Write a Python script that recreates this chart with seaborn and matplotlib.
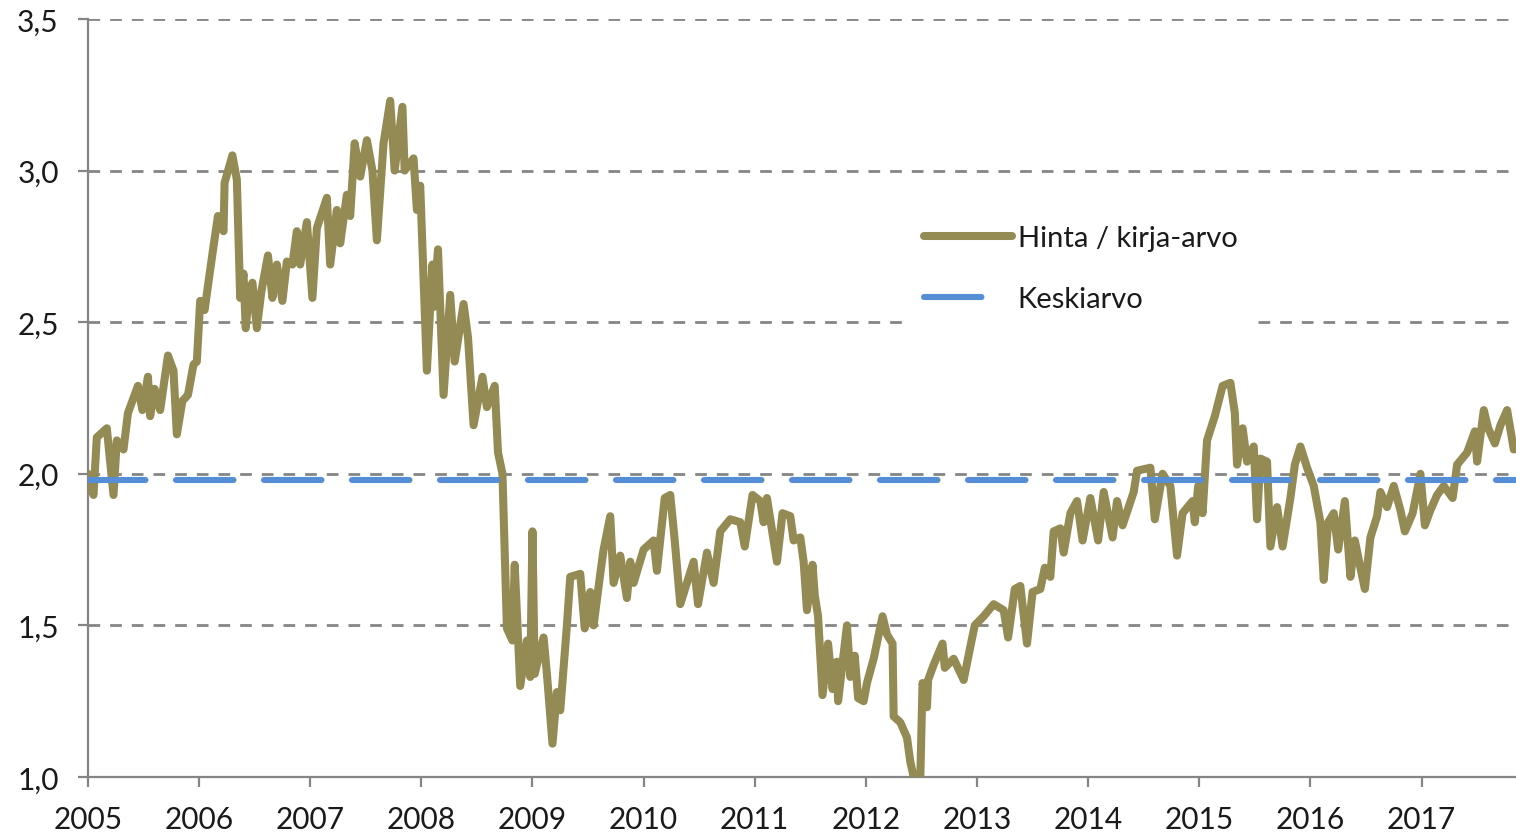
import matplotlib
matplotlib.use("Agg")
import matplotlib.pyplot as plt
import pandas as pd
import seaborn as sns

# Price / book value (decimal years)
dates = [
    2005.00, 2005.05, 2005.08, 2005.17, 2005.23, 2005.26, 2005.32, 2005.36, 2005.45, 2005.49,
    2005.54, 2005.56, 2005.60, 2005.65, 2005.72, 2005.77, 2005.80, 2005.85, 2005.90, 2005.95, 2005.98,
    2006.01, 2006.05, 2006.08, 2006.13, 2006.17, 2006.22, 2006.23, 2006.30, 2006.34, 2006.37,
    2006.40, 2006.42, 2006.45, 2006.48, 2006.52, 2006.56, 2006.62, 2006.66, 2006.70, 2006.75,
    2006.79, 2006.84, 2006.88, 2006.91, 2006.97,
    2007.02, 2007.06, 2007.15, 2007.18, 2007.24, 2007.27, 2007.33, 2007.36, 2007.40, 2007.45,
    2007.51, 2007.56, 2007.60, 2007.66, 2007.72, 2007.76, 2007.83, 2007.85, 2007.93, 2007.96, 2007.99,
    2008.05, 2008.10, 2008.11, 2008.15, 2008.20, 2008.26, 2008.30, 2008.38, 2008.42, 2008.47,
    2008.55, 2008.59, 2008.66, 2008.69, 2008.73, 2008.75, 2008.77, 2008.82, 2008.84, 2008.89,
    2008.95, 2008.98,
    2009.00, 2009.02, 2009.10, 2009.13, 2009.18, 2009.22, 2009.25, 2009.31, 2009.34, 2009.43,
    2009.47, 2009.52, 2009.55, 2009.61, 2009.64, 2009.70, 2009.73, 2009.79, 2009.85, 2009.88, 2009.91,
    2010.00, 2010.09, 2010.12, 2010.19, 2010.24, 2010.28, 2010.33, 2010.45, 2010.49, 2010.57,
    2010.63, 2010.69, 2010.78, 2010.87, 2010.91, 2010.98,
    2011.05, 2011.08, 2011.11, 2011.20, 2011.25, 2011.32, 2011.35, 2011.41, 2011.44, 2011.47,
    2011.52, 2011.54, 2011.57, 2011.61, 2011.66, 2011.70, 2011.74, 2011.75, 2011.83, 2011.86,
    2011.90, 2011.93, 2011.98,
    2012.01, 2012.07, 2012.15, 2012.19, 2012.24, 2012.25, 2012.31, 2012.37, 2012.40, 2012.43,
    2012.49, 2012.51, 2012.55, 2012.56, 2012.61, 2012.69, 2012.71, 2012.79, 2012.88, 2012.94, 2012.98,
    2013.06, 2013.15, 2013.24, 2013.28, 2013.34, 2013.39, 2013.45, 2013.50, 2013.57, 2013.61,
    2013.66, 2013.69, 2013.75, 2013.78, 2013.84, 2013.90, 2013.95,
    2014.02, 2014.09, 2014.14, 2014.22, 2014.26, 2014.31, 2014.41, 2014.44, 2014.56, 2014.60,
    2014.67, 2014.74, 2014.80, 2014.85, 2014.94, 2014.96, 2014.99,
    2015.03, 2015.07, 2015.14, 2015.21, 2015.28, 2015.32, 2015.34, 2015.39, 2015.43, 2015.49,
    2015.52, 2015.55, 2015.61, 2015.64, 2015.70, 2015.75, 2015.82, 2015.86, 2015.91, 2015.97,
    2016.03, 2016.09, 2016.12, 2016.16, 2016.21, 2016.25, 2016.31, 2016.36, 2016.40, 2016.45,
    2016.49, 2016.54, 2016.60, 2016.63, 2016.69, 2016.75, 2016.81, 2016.85, 2016.92, 2016.99,
    2017.03, 2017.08, 2017.14, 2017.20, 2017.28, 2017.32, 2017.41, 2017.48, 2017.50, 2017.56,
    2017.60, 2017.66, 2017.71, 2017.77, 2017.83,
]
ratio = [
    2.00, 1.93, 2.12, 2.15, 1.93, 2.11, 2.08, 2.20, 2.29, 2.21,
    2.32, 2.19, 2.28, 2.21, 2.39, 2.34, 2.13, 2.24, 2.26, 2.36, 2.37,
    2.57, 2.54, 2.62, 2.75, 2.85, 2.80, 2.96, 3.05, 2.97, 2.58,
    2.66, 2.48, 2.60, 2.63, 2.48, 2.60, 2.72, 2.58, 2.69, 2.57,
    2.70, 2.69, 2.80, 2.69, 2.83,
    2.58, 2.81, 2.91, 2.69, 2.87, 2.76, 2.92, 2.85, 3.09, 2.98,
    3.10, 3.00, 2.77, 3.09, 3.23, 3.00, 3.21, 3.00, 3.04, 2.87, 2.95,
    2.34, 2.69, 2.55, 2.74, 2.26, 2.59, 2.37, 2.56, 2.45, 2.16,
    2.32, 2.22, 2.29, 2.07, 2.00, 1.75, 1.49, 1.45, 1.70, 1.30,
    1.45, 1.33,
    1.81, 1.34, 1.46, 1.34, 1.11, 1.28, 1.22, 1.50, 1.66, 1.67,
    1.49, 1.61, 1.50, 1.67, 1.75, 1.86, 1.64, 1.73, 1.59, 1.71, 1.64,
    1.75, 1.78, 1.68, 1.92, 1.93, 1.78, 1.57, 1.71, 1.57, 1.74,
    1.64, 1.81, 1.85, 1.84, 1.76, 1.93,
    1.91, 1.84, 1.92, 1.71, 1.87, 1.86, 1.78, 1.79, 1.71, 1.55,
    1.70, 1.60, 1.53, 1.27, 1.44, 1.29, 1.38, 1.25, 1.50, 1.33,
    1.40, 1.26, 1.25,
    1.31, 1.39, 1.53, 1.47, 1.44, 1.20, 1.18, 1.13, 1.05, 1.00,
    1.00, 1.31, 1.23, 1.32, 1.37, 1.44, 1.36, 1.39, 1.32, 1.43, 1.50,
    1.53, 1.57, 1.55, 1.46, 1.62, 1.63, 1.44, 1.61, 1.62, 1.69,
    1.66, 1.81, 1.82, 1.74, 1.87, 1.91, 1.78,
    1.92, 1.78, 1.94, 1.79, 1.91, 1.83, 1.94, 2.01, 2.02, 1.85,
    2.00, 1.96, 1.73, 1.87, 1.91, 1.84, 1.96,
    1.87, 2.11, 2.19, 2.29, 2.30, 2.20, 2.03, 2.15, 2.04, 2.09,
    1.85, 2.05, 2.04, 1.76, 1.89, 1.76, 1.92, 2.03, 2.09, 2.02,
    1.96, 1.84, 1.65, 1.84, 1.87, 1.75, 1.91, 1.66, 1.78, 1.69,
    1.62, 1.79, 1.86, 1.94, 1.89, 1.96, 1.88, 1.81, 1.87, 2.00,
    1.83, 1.88, 1.93, 1.96, 1.92, 2.03, 2.07, 2.14, 2.04, 2.21,
    2.15, 2.10, 2.16, 2.21, 2.08,
]
mean_value = 1.98
x_range = [2005.0, 2017.85]
year_ticks = list(range(2005, 2018))
y_ticks = [1.0, 1.5, 2.0, 2.5, 3.0, 3.5]

df = pd.DataFrame({"vuosi": dates, "pb": ratio})
mean_df = pd.DataFrame({"vuosi": x_range, "pb": [mean_value, mean_value]})

sns.set_style("white")
plt.rcParams["font.family"] = ["Lato", "DejaVu Sans"]

fig = plt.figure(figsize=(15.16, 8.37), dpi=100)
ax = fig.add_axes([0.058, 0.0705, 0.942, 0.9057])

olive = "#948A54"
blue = "#558ED5"
grid_gray = "#858585"

# horizontal dashed grid
for yv in y_ticks[1:]:
    ax.axhline(yv, color=grid_gray, lw=2.0, dashes=(4.2, 3.6), zorder=1)

sns.lineplot(data=df, x="vuosi", y="pb", ax=ax, color=olive, lw=5.8,
             estimator=None, sort=False, label="Hinta / kirja-arvo", zorder=3,
             solid_joinstyle="round", solid_capstyle="round")
sns.lineplot(data=mean_df, x="vuosi", y="pb", ax=ax, color=blue, lw=4.4,
             estimator=None, label="Keskiarvo", zorder=4,
             dashes=False, linestyle=(0, (9.4, 5.0)), dash_capstyle="round")

ax.set_xlim(*x_range)
ax.set_ylim(1.0, 3.5)
ax.set_xticks(year_ticks)
ax.set_xticklabels([str(y) for y in year_ticks])
ax.set_yticks(y_ticks)
ax.set_yticklabels([f"{v:.1f}".replace(".", ",") for v in y_ticks])
ax.set_xlabel("")
ax.set_ylabel("")

for side in ["top", "right"]:
    ax.spines[side].set_visible(False)
for side in ["left", "bottom"]:
    ax.spines[side].set_color(grid_gray)
    ax.spines[side].set_linewidth(1.6)
    ax.spines[side].set_zorder(2)

ax.tick_params(axis="both", which="major", labelsize=21.5, colors=grid_gray,
               labelcolor="#1a1a1a", length=7, width=1.6, direction="out")
ax.tick_params(axis="y", pad=14)
ax.tick_params(axis="x", pad=13.5)
ax.tick_params(axis="x", bottom=True)
ax.tick_params(axis="y", left=True)

leg = ax.legend(loc="lower left", bbox_to_anchor=(0.5755, 0.594), fontsize=21,
                frameon=True, fancybox=False, handlelength=3.0, handletextpad=0.2,
                labelspacing=1.2, borderpad=0.5, borderaxespad=0.0)
leg.get_frame().set_facecolor("white")
leg.get_frame().set_edgecolor("white")
leg.get_frame().set_alpha(1.0)
leg.set_zorder(5)
for t in leg.get_texts():
    t.set_color("#1a1a1a")

fig.savefig("out.png", dpi=100, facecolor="white")
